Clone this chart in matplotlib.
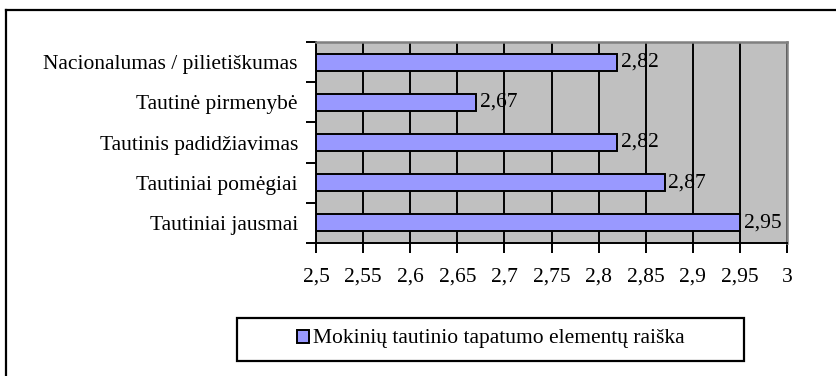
import matplotlib
matplotlib.use("Agg")
import matplotlib.pyplot as plt
from matplotlib.lines import Line2D
from matplotlib.patches import Rectangle
from matplotlib.ticker import FuncFormatter

categories = ["Tautiniai jausmai", "Tautiniai pomėgiai", "Tautinis padidžiavimas",
              "Tautinė pirmenybė", "Nacionalumas / pilietiškumas"]
values = [2.95, 2.87, 2.82, 2.67, 2.82]
series_name = "Mokinių tautinio tapatumo elementų raiška"
x_ticks = [2.5, 2.55, 2.6, 2.65, 2.7, 2.75, 2.8, 2.85, 2.9, 2.95, 3.0]

plt.rcParams["font.family"] = ["Liberation Serif", "DejaVu Serif"]
FS = 15.5

W, H = 836, 376
fig = plt.figure(figsize=(W / 100, H / 100), dpi=100)
ax = fig.add_axes([316 / W, 1 - 243 / H, (787 - 316) / W, (243 - 42) / H])

ax.set_facecolor("#C0C0C0")
y = list(range(len(categories)))
ax.barh(y, [v - 2.5 for v in values], left=2.5, height=0.42,
        color="#9999FF", edgecolor="black", linewidth=1.4, zorder=3)

ax.set_xlim(2.5, 3.0)
ax.set_ylim(-0.5, len(categories) - 0.5)
ax.set_xticks(x_ticks)
ax.xaxis.set_major_formatter(FuncFormatter(lambda v, p: f"{v:g}".replace(".", ",")))
ax.grid(axis="x", color="black", linewidth=1.4, zorder=1)
ax.set_axisbelow(True)

# category labels sit between boundary ticks
ax.set_yticks([i + 0.5 for i in range(-1, len(categories))])
ax.set_yticklabels([])
ax.set_yticks(y, minor=True)
ax.set_yticklabels(categories, minor=True, fontsize=FS)
ax.tick_params(axis="y", which="major", direction="out", length=7, width=1.4)
ax.tick_params(axis="y", which="minor", length=0, pad=13)
ax.tick_params(axis="x", direction="out", length=7, width=1.4, pad=11, labelsize=FS)

for s in ("left", "bottom"):
    ax.spines[s].set_color("black")
    ax.spines[s].set_linewidth(1.4)
for s in ("top", "right"):
    ax.spines[s].set_color("#808080")
    ax.spines[s].set_linewidth(1.8)

for yi, v in zip(y, values):
    ax.text(v + 0.004, yi, f"{v:.2f}".replace(".", ","), va="center", ha="left",
            fontsize=FS, zorder=4)

# legend box
lx0, lx1, ly0, ly1 = 237, 744, 318, 361
fig.patches.append(Rectangle((lx0 / W, 1 - ly1 / H), (lx1 - lx0) / W, (ly1 - ly0) / H,
                             transform=fig.transFigure, facecolor="white",
                             edgecolor="black", linewidth=1.6))
fig.patches.append(Rectangle((297 / W, 1 - 343 / H), 12 / W, 13 / H,
                             transform=fig.transFigure, facecolor="#9999FF",
                             edgecolor="black", linewidth=1.4))
fig.text(313 / W, 1 - 339 / H, series_name, fontsize=FS, va="center", ha="left")

# outer chart frame
fig.add_artist(Line2D([6 / W, 1.0], [1 - 10 / H, 1 - 10 / H], transform=fig.transFigure,
                      color="black", linewidth=1.6))
fig.add_artist(Line2D([6 / W, 6 / W], [0.0, 1 - 10 / H], transform=fig.transFigure,
                      color="black", linewidth=1.6))

fig.savefig("out.png", dpi=100)
